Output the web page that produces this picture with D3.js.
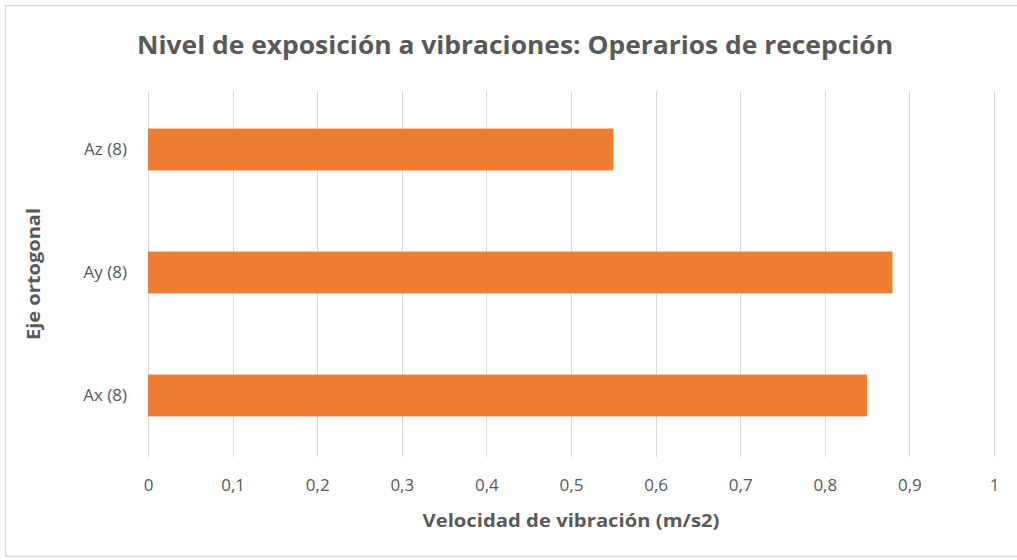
<!DOCTYPE html>
<html>
<head>
<meta charset="utf-8">
<script src="https://cdn.jsdelivr.net/npm/d3@7"></script>
<style>
  html, body { margin: 0; padding: 0; background: #ffffff; }
  svg { display: block; }
  text { font-family: "Liberation Sans Narrow", "Open Sans", "Liberation Sans", sans-serif; }
</style>
</head>
<body>
<svg id="chart" width="1017" height="560"></svg>
<script>
// Vibration exposure levels per orthogonal axis
const categories = ["Az (8)", "Ay (8)", "Ax (8)"];
const values = [0.55, 0.88, 0.85];
const tickValues = [0, 0.1, 0.2, 0.3, 0.4, 0.5, 0.6, 0.7, 0.8, 0.9, 1];
const tickLabels = ["0", "0,1", "0,2", "0,3", "0,4", "0,5", "0,6", "0,7", "0,8", "0,9", "1"];

const titleText = "Nivel de exposición a vibraciones: Operarios de recepción";
const xTitleText = "Velocidad de vibración (m/s2)";
const yTitleText = "Eje ortogonal";

const svg = d3.select("#chart");
const W = 1017, H = 560;
const plot = { left: 148, right: 994, top: 88, bottom: 457 };
const textColor = "#595959";
const gridColor = "#d9d9d9";
const barColor = "#ED7D31";

// Chart frame
svg.append("rect")
  .attr("x", 5.5).attr("y", 5.5)
  .attr("width", W).attr("height", 551)
  .attr("fill", "#ffffff")
  .attr("stroke", "#d9d9d9").attr("stroke-width", 1.5);

const x = d3.scaleLinear().domain([0, 1]).range([plot.left, plot.right]);
const y = d3.scaleBand().domain(categories).range([plot.top, plot.bottom]).paddingInner(0.66).paddingOuter(0.33);

// Vertical gridlines
svg.append("g")
  .selectAll("line")
  .data(tickValues)
  .join("line")
  .attr("x1", d => Math.round(x(d)) + 0.5)
  .attr("x2", d => Math.round(x(d)) + 0.5)
  .attr("y1", plot.top + 3)
  .attr("y2", plot.bottom)
  .attr("stroke", gridColor)
  .attr("stroke-width", 1);

// Bars
svg.append("g")
  .selectAll("rect")
  .data(categories.map((c, i) => ({ c, v: values[i] })))
  .join("rect")
  .attr("x", x(0))
  .attr("y", d => y(d.c))
  .attr("width", d => x(d.v) - x(0))
  .attr("height", y.bandwidth())
  .attr("fill", barColor);

// X axis tick labels
const xAxis = d3.axisBottom(x)
  .tickValues(tickValues)
  .tickFormat((d, i) => tickLabels[i])
  .tickSize(0)
  .tickPadding(0);
const gx = svg.append("g")
  .attr("transform", `translate(0, ${plot.bottom + 22})`)
  .call(xAxis);
gx.select(".domain").remove();
gx.selectAll("text")
  .attr("fill", textColor)
  .attr("font-size", 17)
  .style("font-family", "'Liberation Sans Narrow', 'Open Sans', sans-serif");

// Y axis category labels
const yAxis = d3.axisLeft(y).tickSize(0).tickPadding(21);
const gy = svg.append("g")
  .attr("transform", `translate(${plot.left}, 0)`)
  .call(yAxis);
gy.select(".domain").remove();
gy.selectAll("text")
  .attr("fill", textColor)
  .attr("font-size", 17)
  .style("font-family", "'Liberation Sans Narrow', 'Open Sans', sans-serif");

// Title
svg.append("text")
  .attr("x", 515).attr("y", 54)
  .attr("text-anchor", "middle")
  .attr("fill", textColor)
  .attr("font-size", 25)
  .attr("font-weight", "bold")
  .attr("textLength", 756)
  .attr("lengthAdjust", "spacingAndGlyphs")
  .text(titleText);

// X axis title
svg.append("text")
  .attr("x", 571).attr("y", 527)
  .attr("text-anchor", "middle")
  .attr("fill", textColor)
  .attr("font-size", 17)
  .attr("font-weight", "bold")
  .attr("textLength", 297)
  .attr("lengthAdjust", "spacingAndGlyphs")
  .text(xTitleText);

// Y axis title
svg.append("text")
  .attr("transform", "translate(40, 274) rotate(-90)")
  .attr("text-anchor", "middle")
  .attr("fill", textColor)
  .attr("font-size", 17)
  .attr("font-weight", "bold")
  .attr("textLength", 132)
  .attr("lengthAdjust", "spacingAndGlyphs")
  .text(yTitleText);
</script>
</body>
</html>
